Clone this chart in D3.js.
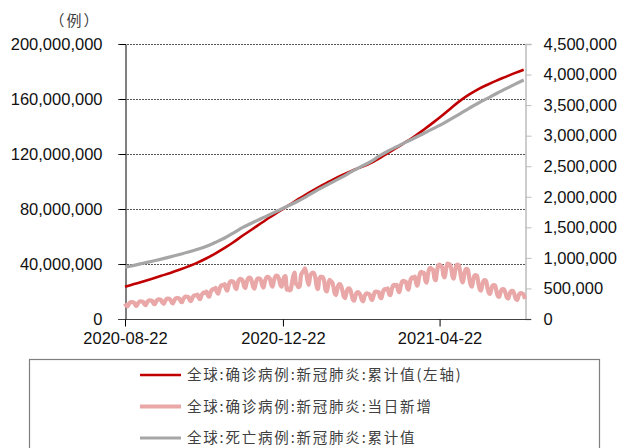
<!DOCTYPE html>
<html>
<head>
<meta charset="utf-8">
<script src="https://cdn.jsdelivr.net/npm/d3@7"></script>
<style>
  body { margin: 0; background: #fff; }
  text { font-family: "Liberation Sans", Arial, sans-serif; }
</style>
</head>
<body>
<div id="chart"></div>
<script>
// x axis: first day and tick dates
const startDate = "2020-08-22";
const endDate = "2021-06-27";
const xTickDates = ["2020-08-22", "2020-12-22", "2021-04-22"];

// tick values for both y axes
const leftTicks = [0, 40e6, 80e6, 120e6, 160e6, 200e6];
const rightTicks = [0, 500000, 1000000, 1500000, 2000000, 2500000, 3000000, 3500000, 4000000, 4500000];

const seriesNames = [
  "全球:确诊病例:新冠肺炎:累计值(左轴)",
  "全球:确诊病例:新冠肺炎:当日新增",
  "全球:死亡病例:新冠肺炎:累计值"
];

// cumulative confirmed, millions, one value per week from startDate
const cumConfirmed = [
  23.5, 25.4, 27.3, 29.3, 31.4, 33.5, 35.8, 38.3, 41.0, 44.2,
  47.8, 51.7, 56.0, 60.7, 65.1, 69.6, 74.0, 78.2, 82.4, 86.6,
  90.7, 94.5, 98.0, 101.6, 104.8, 107.7, 110.3, 113.0, 116.7, 120.7,
  124.6, 128.8, 133.0, 137.8, 142.8, 148.0, 153.5, 158.8, 163.3, 167.2,
  170.4, 173.4, 176.1, 178.8, 181.3
];

// cumulative deaths, thousands, one value per week from startDate
const cumDeaths = [
  846, 878, 912, 946, 980, 1016, 1055, 1096, 1140, 1190,
  1255, 1325, 1410, 1500, 1572, 1640, 1710, 1780, 1852, 1922,
  2002, 2090, 2170, 2248, 2325, 2410, 2490, 2565, 2660, 2745,
  2820, 2895, 2965, 3040, 3115, 3190, 3275, 3360, 3450, 3535,
  3610, 3690, 3765, 3840, 3912
];

// daily new confirmed, thousands, one value per day from startDate (rows = weeks)
const dailyNew = [
  255, 220, 208, 245, 270, 278, 275,
  265, 229, 216, 255, 281, 289, 286,
  281, 242, 228, 270, 297, 305, 302,
  296, 255, 241, 284, 313, 322, 319,
  306, 264, 249, 294, 324, 333, 330,
  316, 273, 257, 304, 335, 344, 341,
  337, 290, 274, 323, 356, 366, 363,
  357, 308, 291, 343, 378, 389, 385,
  398, 343, 324, 382, 421, 433, 429,
  449, 387, 365, 431, 475, 488, 484,
  510, 440, 415, 490, 540, 555, 550,
  571, 493, 465, 549, 605, 622, 616,
  602, 519, 490, 578, 637, 655, 649,
  622, 537, 506, 598, 659, 677, 671,
  612, 528, 498, 588, 648, 666, 660,
  632, 546, 515, 608, 670, 688, 682,
  653, 563, 531, 627, 691, 710, 704,
  653, 563, 531, 627, 691, 700, 480,
  500, 470, 480, 590, 700, 760, 580,
  560, 520, 540, 720, 760, 790, 830,
  760, 620, 560, 700, 740, 760, 750,
  680, 540, 490, 640, 690, 690, 680,
  600, 470, 450, 560, 640, 620, 600,
  530, 420, 390, 490, 560, 570, 540,
  460, 370, 340, 430, 490, 500, 480,
  400, 320, 300, 380, 430, 440, 420,
  380, 310, 290, 370, 410, 420, 410,
  400, 330, 310, 380, 440, 450, 440,
  440, 360, 340, 420, 480, 490, 480,
  500, 410, 390, 480, 545, 560, 545,
  560, 465, 440, 540, 610, 625, 610,
  612, 510, 480, 590, 665, 680, 665,
  695, 580, 545, 665, 755, 770, 750,
  755, 630, 595, 725, 820, 835, 815,
  805, 670, 635, 775, 875, 890, 870,
  845, 710, 680, 815, 905, 900, 890,
  825, 700, 660, 790, 880, 890, 870,
  760, 640, 600, 720, 810, 820, 800,
  665, 560, 530, 640, 710, 720, 705,
  585, 490, 465, 560, 625, 635, 620,
  510, 430, 410, 490, 550, 555, 545,
  450, 375, 360, 430, 485, 490, 480,
  420, 350, 335, 400, 450, 460, 450,
  390, 325, 310, 375, 420, 425, 415,
  395, 330
];

const colors = ["#c00000", "#e9a7a7", "#a6a6a6"];
const strokeWidths = [2.6, 4.2, 3.2];

const width = 621, height = 448;
const plot = {left: 125, right: 525, top: 44, bottom: 319};

const parse = d3.timeParse("%Y-%m-%d");
const fmt = d3.timeFormat("%Y-%m-%d");
const t0 = parse(startDate);

const svg = d3.select("#chart")
  .append("svg")
    .attr("width", width)
    .attr("height", height)
    .style("background-color", "white");

// scales
const x = d3.scaleTime()
  .domain([t0, parse(endDate)])
  .range([plot.left, plot.right]);

const yLeft = d3.scaleLinear()
  .domain([0, 200e6])
  .range([plot.bottom, plot.top]);

const yRight = d3.scaleLinear()
  .domain([0, 4.5e6])
  .range([plot.bottom, plot.top]);

// dotted gridlines from the left axis ticks
svg.append("g")
  .selectAll("line")
  .data(leftTicks.slice(1))
  .enter().append("line")
    .attr("x1", plot.left - 7)
    .attr("x2", plot.right)
    .attr("y1", d => yLeft(d) + 0.5)
    .attr("y2", d => yLeft(d) + 0.5)
    .attr("stroke", "#555")
    .attr("stroke-width", 1)
    .attr("stroke-dasharray", "2,1");

// left axis
const leftAxis = svg.append("g")
  .attr("transform", `translate(${plot.left + 0.5},0)`)
  .call(d3.axisLeft(yLeft).tickValues(leftTicks).tickSize(6).tickPadding(17)
    .tickFormat(d3.format(",")));
leftAxis.select(".domain").attr("stroke", "#000");
leftAxis.selectAll("line").attr("stroke", "#000");
leftAxis.selectAll("text").attr("font-size", "16.5px").attr("fill", "#111")
  .attr("font-family", "Liberation Sans, Arial, sans-serif");

// right axis
const rightAxis = svg.append("g")
  .attr("transform", `translate(${plot.right + 0.5},0)`)
  .call(d3.axisRight(yRight).tickValues(rightTicks).tickSize(6).tickPadding(12)
    .tickFormat(d3.format(",")));
rightAxis.select(".domain").attr("stroke", "#bdbdbd").attr("stroke-width", 1.5);
rightAxis.selectAll("line").attr("stroke", "#bdbdbd");
rightAxis.selectAll("text").attr("font-size", "16.5px").attr("fill", "#111")
  .attr("font-family", "Liberation Sans, Arial, sans-serif");

// bottom axis
const bottomAxis = svg.append("g")
  .attr("transform", `translate(0,${plot.bottom + 0.5})`)
  .call(d3.axisBottom(x).tickValues(xTickDates.map(parse)).tickSize(7).tickPadding(6)
    .tickFormat(fmt));
bottomAxis.select(".domain").attr("d", `M${plot.left - 7},0H${plot.right + 6}`).attr("stroke", "#404040");
bottomAxis.selectAll("line").attr("stroke", "#000");
bottomAxis.selectAll("text").attr("font-size", "16.5px").attr("fill", "#111")
  .attr("font-family", "Liberation Sans, Arial, sans-serif");

// unit label
svg.append("text")
  .attr("x", 75)
  .attr("y", 26)
  .attr("text-anchor", "middle")
  .attr("font-size", "15px")
  .attr("fill", "#404040")
  .style("font-family", "Noto Sans CJK SC")
  .style("letter-spacing", "2px")
  .text("（例）");

// line generators
const weekly = (arr, unit) => arr.map((v, i) => ({date: d3.timeDay.offset(t0, i * 7), value: v * unit}));
const daily = dailyNew.map((v, i) => ({date: d3.timeDay.offset(t0, i), value: v * 1000}));

const lineLeft = d3.line().x(d => x(d.date)).y(d => yLeft(d.value)).curve(d3.curveMonotoneX);
const lineRight = d3.line().x(d => x(d.date)).y(d => yRight(d.value)).curve(d3.curveMonotoneX);

svg.append("path")
  .datum(weekly(cumConfirmed, 1e6))
  .attr("d", lineLeft)
  .attr("fill", "none")
  .attr("stroke", colors[0])
  .attr("stroke-width", strokeWidths[0]);

svg.append("path")
  .datum(daily)
  .attr("d", lineRight)
  .attr("fill", "none")
  .attr("stroke", colors[1])
  .attr("stroke-width", strokeWidths[1])
  .attr("stroke-linejoin", "round");

svg.append("path")
  .datum(weekly(cumDeaths, 1000))
  .attr("d", lineRight)
  .attr("fill", "none")
  .attr("stroke", colors[2])
  .attr("stroke-width", strokeWidths[2]);

// legend box
svg.append("rect")
  .attr("x", 29.5)
  .attr("y", 359.5)
  .attr("width", 570)
  .attr("height", 120)
  .attr("fill", "none")
  .attr("stroke", "#7f7f7f")
  .attr("stroke-width", 1.2);

const legend = svg.append("g")
  .selectAll("g")
  .data(seriesNames)
  .enter().append("g")
    .attr("transform", (d, i) => `translate(140,${375 + i * 31.5})`);

legend.append("line")
  .attr("x1", 0)
  .attr("x2", 41)
  .attr("stroke", (d, i) => colors[i])
  .attr("stroke-width", (d, i) => strokeWidths[i]);

legend.append("text")
  .attr("x", 47)
  .attr("dy", "0.35em")
  .attr("font-size", "14.5px")
  .attr("fill", "#404040")
  .style("font-family", "Noto Sans CJK SC")
  .style("letter-spacing", "1.8px")
  .text(d => d);
</script>
</body>
</html>
